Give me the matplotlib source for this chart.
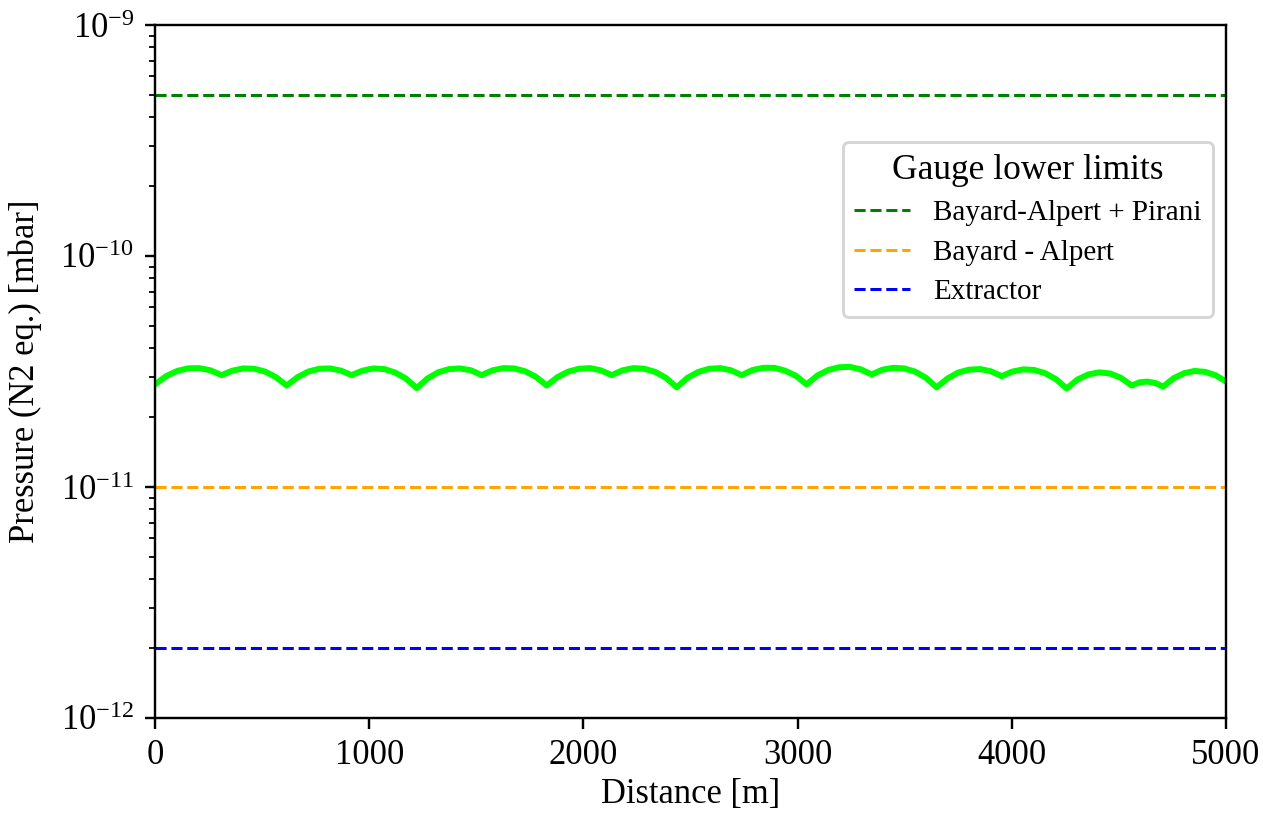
import matplotlib
matplotlib.use("Agg")
import matplotlib.pyplot as plt
import numpy as np

plt.rcParams['font.family'] = 'serif'
plt.rcParams['font.serif'] = ['Liberation Serif', 'DejaVu Serif']
plt.rcParams['mathtext.fontset'] = 'custom'
plt.rcParams['mathtext.rm'] = 'Liberation Serif'
plt.rcParams['mathtext.it'] = 'Liberation Serif:italic'
plt.rcParams['font.size'] = 11.5

# pressure profile along the beam line
dist = [0, 52, 104, 156, 207, 259, 311,
        362, 412, 463, 514, 564, 615,
        666, 716, 767, 817, 868, 918,
        969, 1019, 1070, 1121, 1171, 1222,
        1272, 1323, 1374, 1424, 1475, 1525,
        1576, 1626, 1677, 1728, 1778, 1829,
        1879, 1930, 1980, 2031, 2081, 2132,
        2183, 2233, 2284, 2335, 2385, 2436,
        2486, 2537, 2588, 2638, 2689, 2739,
        2790, 2840, 2891, 2941, 2992, 3042,
        3093, 3143, 3194, 3245, 3295, 3346,
        3396, 3447, 3498, 3548, 3599, 3649,
        3700, 3750, 3801, 3852, 3902, 3953,
        4003, 4054, 4105, 4155, 4206, 4256,
        4307, 4357, 4408, 4459, 4509, 4560,
        4597, 4633, 4670, 4707,
        4756, 4805, 4854, 4903, 4952, 5000]
p_e11 = [2.78, 3.02, 3.18, 3.265, 3.27, 3.20, 3.05,
         3.19, 3.26, 3.25, 3.16, 2.99, 2.75,
         2.99, 3.16, 3.25, 3.26, 3.19, 3.05,
         3.19, 3.26, 3.24, 3.13, 2.95, 2.68,
         2.95, 3.14, 3.24, 3.26, 3.20, 3.05,
         3.20, 3.27, 3.26, 3.17, 3.00, 2.75,
         2.99, 3.16, 3.25, 3.27, 3.20, 3.05,
         3.20, 3.27, 3.25, 3.15, 2.97, 2.70,
         2.97, 3.15, 3.25, 3.27, 3.20, 3.05,
         3.21, 3.28, 3.28, 3.19, 3.03, 2.78,
         3.04, 3.21, 3.30, 3.31, 3.23, 3.07,
         3.22, 3.28, 3.26, 3.16, 2.97, 2.70,
         2.95, 3.13, 3.22, 3.24, 3.17, 3.02,
         3.16, 3.23, 3.21, 3.11, 2.93, 2.67,
         2.92, 3.07, 3.135, 3.10, 2.97, 2.75,
         2.84, 2.86, 2.82, 2.72,
         2.96, 3.11, 3.18, 3.15, 3.045, 2.86]

# gauge lower limits
gauge_names = ['Bayard-Alpert + Pirani', 'Bayard - Alpert', 'Extractor']
gauge_limits = [5e-10, 1e-11, 2e-12]
gauge_colors = ['green', 'orange', 'blue']

dpi = 216
fig, ax = plt.subplots(figsize=(1263/dpi, 816/dpi), dpi=dpi)
fig.subplots_adjust(left=155/1263, right=1226/1263, top=1-25/816, bottom=1-718/816)

ax.plot(dist, np.array(p_e11)*1e-11, color='#00ff00', lw=2)
for name, lim, c in zip(gauge_names, gauge_limits, gauge_colors):
    ax.axhline(lim, color=c, ls='--', lw=1, label=name)

ax.set_yscale('log')
ax.set_ylim(1e-12, 1e-9)
ax.set_xlim(0, 5000)
ax.set_xticks([0, 1000, 2000, 3000, 4000, 5000])
ax.set_xlabel('Distance [m]', labelpad=2)
ax.set_ylabel('Pressure (N2 eq.) [mbar]', labelpad=6)

ax.legend(title='Gauge lower limits', loc='upper right',
          bbox_to_anchor=(0.988, 0.831), borderaxespad=0,
          fontsize=9.7, title_fontsize=11.8, handlelength=1.9,
          labelspacing=0.45)

fig.savefig('out.png', dpi=dpi)
